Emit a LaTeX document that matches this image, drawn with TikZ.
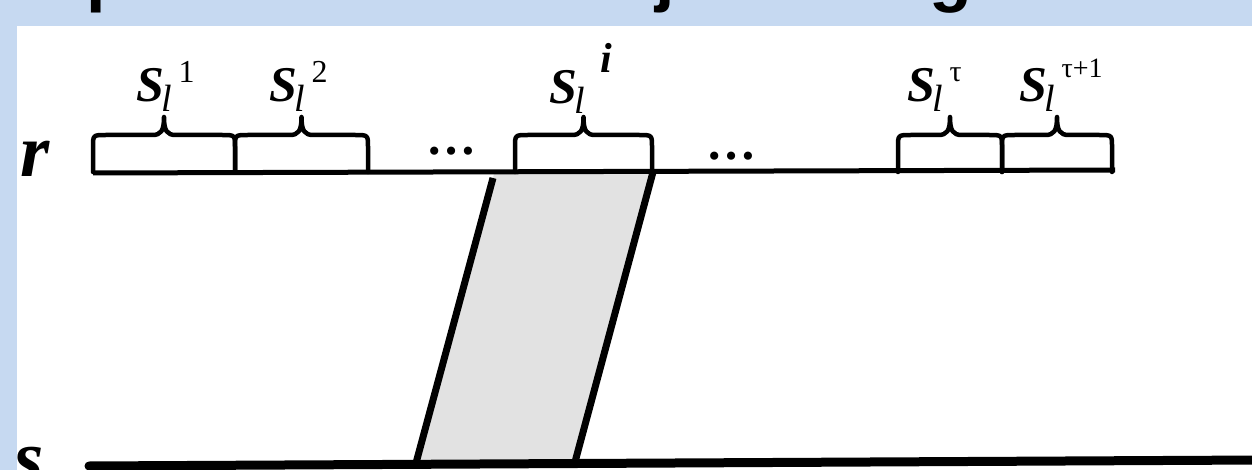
\documentclass[tikz,border=0pt]{standalone}
\usepackage{fontspec}
\setmainfont{Liberation Serif}
\newfontfamily\titlefont{Liberation Sans}
\definecolor{slideblue}{HTML}{C6D9F1}
\definecolor{bandgray}{HTML}{E2E2E2}
% S_l^{sup}: #1 kern before sup, #2 raise of sup, #3 size of sup, #4 sup text
\newcommand{\Slab}[4]{{\fontsize{50}{50}\selectfont\bfseries\itshape S}\kern-3pt\raisebox{-10pt}{\fontsize{38}{38}\selectfont\itshape l}\kern#1pt\raisebox{#2pt}{\fontsize{#3}{#3}\selectfont #4}}
\newcommand{\curly}[2]{%
  \pgfmathsetmacro\xm{(#1+#2)/2}%
  \draw[bracestyle] (#1,172) -- (#1,147) .. controls (#1,135) .. (#1+13,135)
    -- (\xm-12,135) .. controls (\xm-3,135) and (\xm,131) .. (\xm,117)
    .. controls (\xm,131) and (\xm+3,135) .. (\xm+12,135)
    -- (#2-13,135) .. controls (#2,135) .. (#2,147) -- (#2,172);}
\tikzset{
  titlechar/.style={anchor=base west, inner sep=0pt, font={\titlefont\bfseries\fontsize{70}{70}\selectfont}},
  bracestyle/.style={line width=4.5pt, line cap=round, line join=round},
  lab/.style={anchor=base west, inner sep=0pt},
  axislabel/.style={anchor=base west, inner sep=0pt, font={\bfseries\itshape\fontsize{75}{75}\selectfont}},
  dots/.style={anchor=base west, inner sep=0pt, font={\bfseries\fontsize{50}{50}\selectfont}},
  thin line/.style={line width=5pt},
  thick line/.style={line width=9pt, line cap=round},
  band edge/.style={line width=7pt},
}
\begin{document}
\begin{tikzpicture}[x=1pt,y=-1pt]
\useasboundingbox (0,0) rectangle (1252,470);
\clip (0,0) rectangle (1252,470);
\fill[slideblue] (0,0) rectangle (1252,470);
\fill[white] (17,26) rectangle (1252,470);
% cut-off title (only descenders visible)
\begin{scope}
  \clip (0,0) rectangle (1252,26);
  \node[titlechar] (t1) at (86,-1) {p};
  \node[titlechar] (t2) at (655,-1) {j};
  \node[titlechar] (t3) at (929,-1) {g};
\end{scope}
% coordinates
\coordinate (rL) at (93,173);
\coordinate (rR) at (1115,170);
\coordinate (sL) at (89,466);
\coordinate (sR) at (1260,460);
\coordinate (pTL) at (494,174);
\coordinate (pTR) at (653,172);
\coordinate (pBR) at (575,462);
\coordinate (pBL) at (416,463);
% band
\fill[bandgray] (pTL) -- (pTR) -- (pBR) -- (pBL) -- cycle;
\draw[band edge] (493,178) -- (pBL);
\draw[band edge] (pTR) -- (pBR);
% lines
\draw[thin line] (rL) -- (rR);
\draw[thick line] (sL) -- (sR);
% braces
\curly{93}{235}
\curly{235}{368}
\curly{515}{652}
\curly{898}{1002}
\curly{1002}{1112}
% labels
\node[lab] (L1) at (136,102) {\Slab{7}{19}{32}{1}};
\node[lab] (L2) at (269,102) {\Slab{7}{19}{32}{2}};
\node[lab] (Li) at (549,104) {\Slab{16}{31}{42}{\bfseries\itshape i}};
\node[lab] (Lt) at (907,102) {\Slab{7}{20}{30}{τ}};
\node[lab] (Lt1) at (1019,102) {\Slab{7}{24}{28}{τ+1}};
\node[dots] (d1) at (426,155) {…};
\node[dots] (d2) at (706,160) {…};
\node[axislabel] (r) at (20,177) {r};
\node[axislabel] (s) at (14,482) {s};
\end{tikzpicture}
\end{document}
